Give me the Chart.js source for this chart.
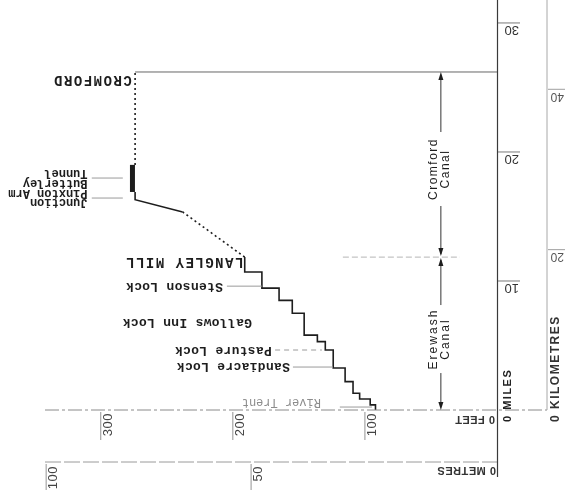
<!DOCTYPE html>
<html>
<head>
<meta charset="utf-8">
<script src="https://cdn.jsdelivr.net/npm/chart.js@4.4.0/dist/chart.umd.min.js"></script>
<style>
  html, body { margin: 0; padding: 0; background: #fff; }
  #wrap { width: 566px; height: 493px; position: relative; }
</style>
</head>
<body>
<div id="wrap"><canvas id="profile"></canvas></div>
<script>
// Erewash Canal: distance of each lock from the Trent (miles) and level above it (feet)
const erewashMiles = [0, 0.4, 0.85, 1.3, 2.2, 3.25, 4.65, 5.3, 5.8, 7.5, 8.5, 9.45, 10.7, 11.85];
const erewashFeet  = [92, 96, 104, 109, 115, 124, 130, 136, 146, 155, 165, 178, 191, 191];

// Cromford Canal, Langley Mill up to the summit pound
const cromfordMiles = [11.85, 15.35, 16.3, 16.9];
const cromfordFeet  = [191, 238, 274, 274];
const tunnelMiles = [16.9, 19.0];
const tunnelFeet  = [276, 276];
const summitMiles = [19.0, 26.2];
const summitFeet  = [274, 274];

const canalJoin = 11.85;   // Langley Mill
const cromfordEnd = 26.2;  // Cromford wharf

const feetTicks  = [100, 200, 300];
const metreTicks = [50, 100];
const mileTicks  = [10, 20, 30];
const kmTicks    = [20, 40];

// place names, right-hand end of the (upside down) text
const placeLabels = [
  { text: "CROMFORD", ft: 276.5, mi: 25.6, caps: true },
  { text: "Junction", ft: 310, mi: 16.1, small: true },
  { text: "Pinxton Arm", ft: 310, mi: 16.85, small: true },
  { text: "Butterley", ft: 310, mi: 17.62, small: true },
  { text: "Tunnel", ft: 310, mi: 18.4, small: true },
  { text: "LANGLEY MILL", ft: 192, mi: 11.47, caps: true },
  { text: "Stenson Lock", ft: 207.5, mi: 9.6 },
  { text: "Gallows Inn Lock", ft: 185.5, mi: 6.82 },
  { text: "Pasture Lock", ft: 170.5, mi: 4.65 },
  { text: "Sandiacre Lock", ft: 156.8, mi: 3.41 },
  { text: "River Trent", ft: 133.3, mi: 0.62, grey: true }
];
const leaders = [
  { from: 306.8, to: 283.3, mi: 17.98 },
  { from: 306.8, to: 283.3, mi: 16.43 },
  { from: 204.5, to: 178, mi: 9.6 },
  { from: 168, to: 132.6, mi: 4.65, dash: true },
  { from: 154.5, to: 124.2, mi: 3.33 },
  { from: 119, to: 94.7, mi: 0.23 }
];

const toPoints = (feet, miles) => miles.map((m, i) => ({ x: feet[i], y: m }));
const ink = "#1d1d1d";

const decor = {
  id: "decor",
  afterDatasetsDraw(chart) {
    const ctx = chart.ctx;
    const xs = chart.scales.x, ys = chart.scales.y;
    const ms = chart.scales.m, ks = chart.scales.k;
    const X = v => xs.getPixelForValue(v);
    const Y = v => ys.getPixelForValue(v);
    const x0 = X(0), y0 = Y(0);

    const line = (ax, ay, bx, by, color, w, dash) => {
      ctx.save();
      ctx.strokeStyle = color;
      ctx.lineWidth = w;
      ctx.setLineDash(dash || []);
      ctx.beginPath();
      ctx.moveTo(ax, ay);
      ctx.lineTo(bx, by);
      ctx.stroke();
      ctx.restore();
    };
    // text turned half way round, anchored at its right-hand end on screen
    const flipped = (t, x, y, font, color, spacing) => {
      ctx.save();
      ctx.translate(x, y);
      ctx.rotate(Math.PI);
      ctx.font = font;
      ctx.letterSpacing = spacing || "0px";
      ctx.fillStyle = color;
      ctx.textAlign = "left";
      ctx.textBaseline = "middle";
      ctx.fillText(t, 0, 0);
      ctx.restore();
    };
    // text reading bottom to top
    const upward = (t, x, y, font, color, align, baseline, spacing) => {
      ctx.save();
      ctx.translate(x, y);
      ctx.rotate(-Math.PI / 2);
      ctx.font = font;
      ctx.letterSpacing = spacing || "0px";
      ctx.fillStyle = color;
      ctx.textAlign = align;
      ctx.textBaseline = baseline;
      ctx.fillText(t, 0, 0);
      ctx.restore();
    };
    const arrow = (x, y, dir) => {
      ctx.save();
      ctx.fillStyle = ink;
      ctx.beginPath();
      ctx.moveTo(x, y);
      ctx.lineTo(x - 2.5, y - dir * 8);
      ctx.lineTo(x + 2.5, y - dir * 8);
      ctx.closePath();
      ctx.fill();
      ctx.restore();
    };

    // base lines: feet axis (river level) and metres axis
    const xl = chart.chartArea.left + 5;
    line(xl, y0, 547, y0, "#8a8a8a", 1, [14, 3, 3, 3]);
    const yM = y0 + 52;
    line(xl, yM, x0, yM, "#9a9a9a", 1, [16, 3]);
    // miles and kilometres axes
    line(x0 + 0.5, 0, x0 + 0.5, yM + 15, "#3a3a3a", 1.2);
    const xK = 547;
    line(xK, 0, xK, y0, "#a8a8a8", 1);

    // feet ticks
    const sans = "'Liberation Sans', Arial, sans-serif";
    feetTicks.forEach(v => {
      const x = X(v);
      line(x, y0 + 2, x, y0 + 30, "#777", 0.8);
      upward(String(v), x + 1, y0 + 3, "13px " + sans, "#444", "right", "top", "0.5px");
    });
    flipped("0 FEET", x0 - 2, y0 + 9, "bold 11px " + sans, "#333", "0.5px");
    metreTicks.forEach(v => {
      const x = ms.getPixelForValue(v);
      line(x, yM + 2, x, yM + 28, "#777", 0.8);
      upward(String(v), x + 1, yM + 4, "13px " + sans, "#444", "right", "top", "0.5px");
    });
    flipped("0 METRES", x0 - 1, yM + 8, "bold 11px " + sans, "#333", "0.5px");

    // miles and kilometre ticks, labels turned round like the rest
    mileTicks.forEach(v => {
      const y = Y(v);
      line(x0 + 1, y, x0 + 23, y, "#555", 0.8);
      flipped(String(v), x0 + 22, y + 7, "13px " + sans, "#333");
    });
    upward("0 MILES", x0 + 11, y0 + 12, "bold 11px " + sans, "#222", "left", "middle", "1.5px");
    kmTicks.forEach(v => {
      const y = ks.getPixelForValue(v);
      line(xK + 1, y, xK + 18, y, "#888", 0.8);
      flipped(String(v), xK + 17, y + 7, "12px " + sans, "#555");
    });
    upward("0 KILOMETRES", xK + 9, y0 + 12, "bold 12px " + sans, "#333", "left", "middle", "1.5px");

    // Cromford wharf level carried to the axis
    line(X(summitFeet[1]), Y(cromfordEnd), x0, Y(cromfordEnd), "#555", 0.9);

    // canal length arrows
    const xa = X(42.5);
    const yTop = Y(cromfordEnd), yJoin = Y(canalJoin);
    const cMid = Y(18.68), eMid = Y(5.5);
    line(xa, yTop + 4, xa, cMid - 37, ink, 0.9);
    line(xa, cMid + 37, xa, yJoin - 3, ink, 0.9);
    line(xa, yJoin + 3, xa, eMid - 34, ink, 0.9);
    line(xa, eMid + 34, xa, y0 - 4, ink, 0.9);
    arrow(xa, yTop, -1);
    arrow(xa, yJoin - 1, 1);
    arrow(xa, yJoin + 1, -1);
    arrow(xa, y0, 1);
    line(X(116.7), yJoin, X(28), yJoin, "#b5b5b5", 1, [6, 3]);
    const cf = "12px " + sans;
    upward("Cromford", xa - 7, cMid, cf, ink, "center", "middle", "1.5px");
    upward("Canal", xa + 5, cMid, cf, ink, "center", "middle", "1.5px");
    upward("Erewash", xa - 7, eMid, cf, ink, "center", "middle", "2px");
    upward("Canal", xa + 5, eMid, cf, ink, "center", "middle", "2px");

    // place names and leader lines
    const mono = "'Liberation Mono', 'DejaVu Sans Mono', monospace";
    placeLabels.forEach(p => {
      let font = "bold 13px " + mono, spacing = "0.3px";
      if (p.caps) { font = "bold 14px " + mono; spacing = "1.5px"; }
      if (p.small) { font = "bold 12px " + mono; spacing = "0px"; }
      if (p.grey) { font = "12px " + mono; spacing = "0px"; }
      flipped(p.text, X(p.ft), Y(p.mi), font, p.grey ? "#8c8c8c" : ink, spacing);
    });
    leaders.forEach(l => {
      line(X(l.from), Y(l.mi), X(l.to), Y(l.mi), "#9a9a9a", 1, l.dash ? [5, 4] : []);
    });
  }
};

const profileLine = {
  showLine: true,
  pointRadius: 0,
  borderColor: ink,
  backgroundColor: ink,
  borderWidth: 1.6,
  tension: 0,
  fill: false
};

new Chart(document.getElementById("profile"), {
  type: "scatter",
  data: {
    datasets: [
      Object.assign({}, profileLine, {
        data: toPoints(erewashFeet, erewashMiles),
        stepped: "after"
      }),
      Object.assign({}, profileLine, {
        data: toPoints(cromfordFeet, cromfordMiles),
        segment: {
          borderDash: c => (c.p0DataIndex === 0 ? [2, 3] : undefined)
        }
      }),
      Object.assign({}, profileLine, {
        data: toPoints(tunnelFeet, tunnelMiles),
        borderWidth: 5
      }),
      Object.assign({}, profileLine, {
        data: toPoints(summitFeet, summitMiles),
        borderDash: [2, 3]
      })
    ]
  },
  options: {
    responsive: true,
    maintainAspectRatio: false,
    animation: false,
    layout: { padding: { left: 40, right: 69, top: 0, bottom: 83 } },
    scales: {
      x: { type: "linear", min: 0, max: 346, reverse: true, display: false },
      y: { type: "linear", min: 0, max: 31.78, display: false },
      m: { type: "linear", axis: "x", min: -10, max: 101.5, reverse: true, display: false },
      k: { type: "linear", axis: "y", min: 0, max: 51.14, display: false }
    },
    plugins: {
      legend: { display: false },
      tooltip: { enabled: false }
    }
  },
  plugins: [decor]
});
</script>
</body>
</html>
